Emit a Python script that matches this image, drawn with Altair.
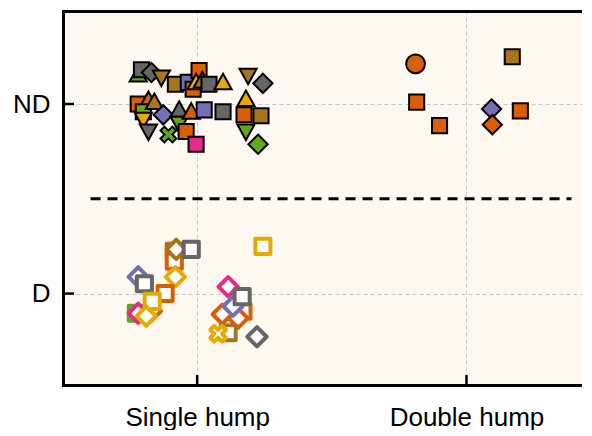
import math
import altair as alt
import pandas as pd

# ---- categories / labels ----
x_labels = ["Single hump", "Double hump"]
y_labels = ["D", "ND"]
groups = ["A", "B", "C", "D", "E", "F", "G"]
group_colors = ["#d95f02", "#7570b3", "#e7298a", "#66a61e", "#e6ab02", "#a6761d", "#666666"]

# ---- ND (filled markers) ----
nd_hump = ["Single hump"] * 34 + ["Double hump"] * 7
nd_group = ["D", "G", "G", "F", "F", "B", "A", "A", "E", "F", "G", "E",
            "F", "G", "E", "A", "F", "D", "D",
            "A", "A", "D", "F", "E", "G", "B", "G", "D", "A", "D", "A", "C", "B", "G",
            "A", "A", "A", "F", "B", "A", "A"]
nd_marker = ["tri_up", "square", "diamond", "tri_down", "square", "square", "square", "square", "tri_up", "tri_up", "square", "tri_up",
             "tri_down", "diamond", "tri_up", "square", "square", "tri_down", "diamond",
             "square", "tri_up", "square", "tri_up", "tri_down", "tri_down", "diamond", "tri_up", "tri_down", "square", "x", "tri_up", "square", "square", "square",
             "circle", "square", "square", "square", "diamond", "diamond", "square"]
nd_dx = [-0.219, -0.207, -0.170, -0.133, -0.081, -0.033, 0.007, -0.015, -0.004, 0.019, 0.044, 0.096,
         0.189, 0.244, 0.181, 0.174, 0.237, 0.181, 0.226,
         -0.219, -0.181, -0.200, -0.159, -0.200, -0.181, -0.126, -0.067, -0.067, -0.041, -0.107, -0.022, -0.004, 0.026, 0.096,
         -0.189, -0.185, -0.100, 0.170, 0.093, 0.096, 0.200]
nd_dy = [0.155, 0.181, 0.166, 0.140, 0.104, 0.114, 0.176, 0.078, 0.114, 0.124, 0.104, 0.114,
         0.150, 0.109, 0.026, -0.057, -0.062, -0.145, -0.212,
         0.000, 0.021, -0.041, 0.010, -0.083, -0.145, -0.057, -0.031, -0.104, -0.145, -0.161, -0.041, -0.212, -0.031, -0.041,
         0.212, 0.010, -0.114, 0.249, -0.026, -0.109, -0.036]

# ---- D (open markers) ----
d_hump = ["Single hump"] * 23
d_group = ["A", "A", "F", "G", "E", "B", "G", "E", "A", "D", "C", "A", "E", "E",
           "C", "A", "A", "A", "B", "G", "F", "E", "G"]
d_marker = ["square", "square", "diamond", "square", "square", "diamond", "square", "diamond", "square", "square", "diamond", "diamond", "square", "diamond",
            "diamond", "square", "diamond", "diamond", "diamond", "square", "square", "x", "diamond"]
d_dx = [-0.085, -0.085, -0.078, -0.022, 0.244, -0.219, -0.196, -0.081, -0.119, -0.226, -0.219, -0.170, -0.167, -0.189,
        0.115, 0.170, 0.093, 0.152, 0.133, 0.167, 0.115, 0.078, 0.222]
d_dy = [0.223, 0.171, 0.233, 0.233, 0.249, 0.088, 0.052, 0.088, 0.000, -0.104, -0.104, -0.093, -0.041, -0.119,
        0.036, -0.093, -0.109, -0.130, -0.067, -0.016, -0.207, -0.212, -0.228]

# threshold line and tick values
threshold_y = 0.5
threshold_x = [-0.396, 1.39]
x_tick_values = [0, 1]
y_tick_values = [0, 1]


# ---- marker shapes (unit paths) ----
def poly(pts):
    return "M" + "L".join(f"{x:.3f},{y:.3f}" for x, y in pts) + "Z"


def x_path(a=0.26, e=0.8):
    plus = [(-a, -e), (a, -e), (a, -a), (e, -a), (e, a), (a, a), (a, e), (-a, e), (-a, a), (-e, a), (-e, -a), (-a, -a)]
    s = 1 / math.sqrt(2)
    return poly([((x - y) * s, (x + y) * s) for x, y in plus])


marker_names = ["circle", "square", "diamond", "tri_up", "tri_down", "x"]
marker_paths = [
    "M0.9,0A0.9,0.9,0,1,1,-0.9,0A0.9,0.9,0,1,1,0.9,0Z",
    poly([(-0.72, -0.72), (0.72, -0.72), (0.72, 0.72), (-0.72, 0.72)]),
    poly([(0, -0.92), (0.92, 0), (0, 0.92), (-0.92, 0)]),
    poly([(0, -0.82), (0.82, 0.66), (-0.82, 0.66)]),
    poly([(0, 0.82), (0.82, -0.66), (-0.82, -0.66)]),
    x_path(),
]

nd_df = pd.DataFrame({
    "x": [x_labels.index(h) + d for h, d in zip(nd_hump, nd_dx)],
    "y": [y_labels.index("ND") + d for d in nd_dy],
    "group": nd_group,
    "marker": nd_marker,
})
d_df = pd.DataFrame({
    "x": [x_labels.index(h) + d for h, d in zip(d_hump, d_dx)],
    "y": [y_labels.index("D") + d for d in d_dy],
    "group": d_group,
    "marker": d_marker,
})
thr_df = pd.DataFrame({"x": [threshold_x[0]], "x2": [threshold_x[1]], "y": [threshold_y]})
xt_df = pd.DataFrame({"x": x_tick_values})
yt_df = pd.DataFrame({"y": y_tick_values})
one_row = pd.DataFrame({"k": [0]})

W, H = 520, 377
FONT = "Liberation Sans"
xscale = alt.Scale(domain=[-0.502, 1.429], nice=False, zero=False)
yscale = alt.Scale(domain=[-0.493, 1.496], nice=False, zero=False)
color_scale = alt.Scale(domain=groups, range=group_colors)
shape_scale = alt.Scale(domain=marker_names, range=marker_paths)

axis_common = dict(grid=True, gridColor="#c8c8c8", gridDash=[4, 3], gridWidth=1,
                   domain=False, ticks=False, labelFont=FONT, labelFontSize=26,
                   labelColor="black", title=None)
x_axis = alt.Axis(values=x_tick_values, labelPadding=17,
                  labelExpr=f"{x_labels}[round(datum.value)]", **axis_common)
y_axis = alt.Axis(values=y_tick_values, labelPadding=12,
                  labelExpr=f"{y_labels}[round(datum.value)]", **axis_common)

threshold = alt.Chart(thr_df).mark_rule(color="black", strokeWidth=3, strokeDash=[10, 7]).encode(
    x=alt.X("x:Q", scale=xscale, axis=x_axis),
    x2="x2:Q",
    y=alt.Y("y:Q", scale=yscale, axis=y_axis),
)

SIZE = 440
nd_layer = alt.Chart(nd_df).mark_point(filled=True, stroke="black", strokeWidth=2, size=SIZE,
                                       opacity=1, strokeJoin="miter").encode(
    x=alt.X("x:Q", scale=xscale),
    y=alt.Y("y:Q", scale=yscale),
    color=alt.Color("group:N", scale=color_scale, legend=None),
    shape=alt.Shape("marker:N", scale=shape_scale, legend=None),
)

d_layer = alt.Chart(d_df).mark_point(filled=False, fill="white", strokeWidth=4, size=SIZE,
                                     opacity=1, strokeJoin="round").encode(
    x=alt.X("x:Q", scale=xscale),
    y=alt.Y("y:Q", scale=yscale),
    color=alt.Color("group:N", scale=color_scale, legend=None),
    shape=alt.Shape("marker:N", scale=shape_scale, legend=None),
)

x_ticks = alt.Chart(xt_df).mark_rule(color="black", strokeWidth=2.5).encode(
    x=alt.X("x:Q", scale=xscale), y=alt.value(H), y2=alt.value(H - 12))
y_ticks = alt.Chart(yt_df).mark_rule(color="black", strokeWidth=2.5).encode(
    y=alt.Y("y:Q", scale=yscale), x=alt.value(0), x2=alt.value(12))

# frame: left, top and bottom edges (right edge lies outside the picture)
frame_style = dict(color="black", strokeWidth=3)
frame_left = alt.Chart(one_row).mark_rule(**frame_style).encode(
    x=alt.value(1.5), y=alt.value(0), y2=alt.value(H))
frame_top = alt.Chart(one_row).mark_rule(**frame_style).encode(
    x=alt.value(0), x2=alt.value(W), y=alt.value(1.5))
frame_bottom = alt.Chart(one_row).mark_rule(**frame_style).encode(
    x=alt.value(0), x2=alt.value(W), y=alt.value(H - 1.5))

chart = alt.layer(threshold, nd_layer, d_layer, x_ticks, y_ticks,
                  frame_left, frame_top, frame_bottom).properties(
    width=W, height=H,
    padding={"left": 4, "top": 0, "right": 0, "bottom": 0},
    background="white",
).configure_view(stroke="transparent", strokeWidth=0, fill="#fdf8f0")

chart.save("out.html", embed_options={"renderer": "svg", "actions": False})
